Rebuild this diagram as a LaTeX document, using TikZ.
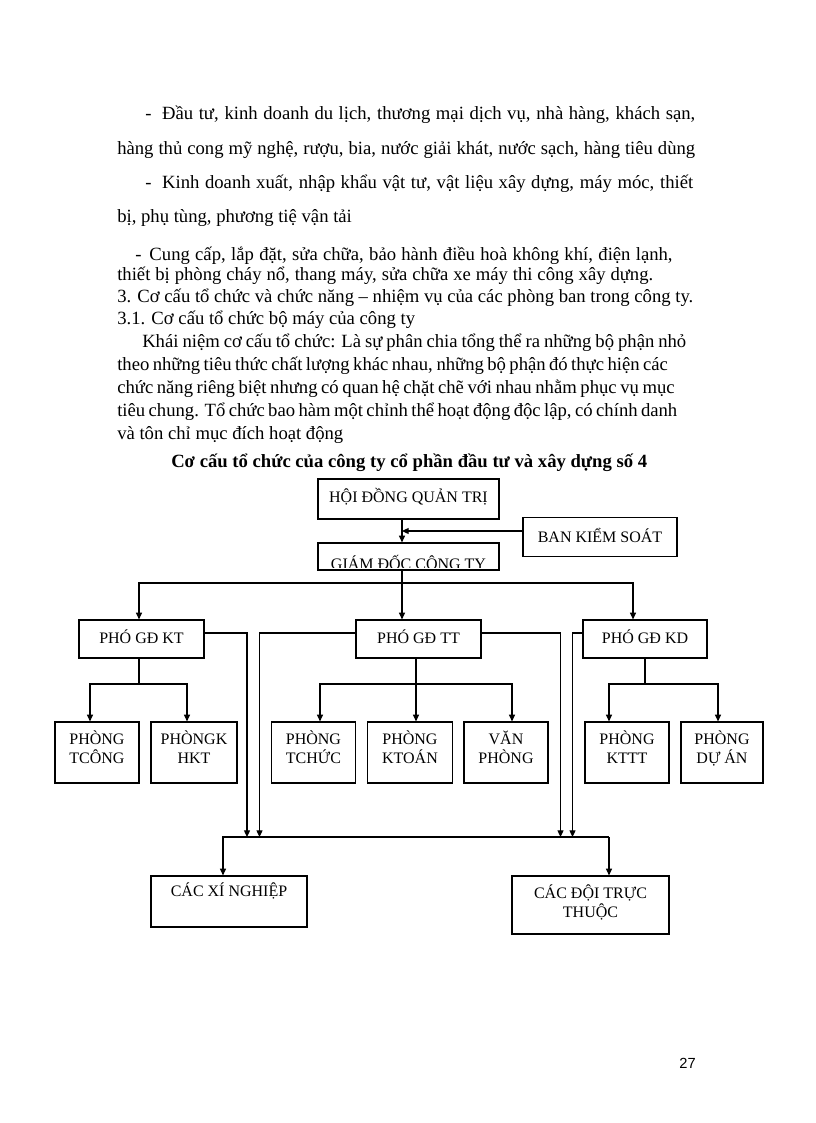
\documentclass[tikz,border=0pt]{standalone}
\usepackage{fontspec}
\setmainfont{Liberation Serif}
\newfontfamily\pagenumfont{Liberation Sans}
\usetikzlibrary{arrows.meta}
\tikzset{
  ln/.style={line width=0.9pt},
  arr/.style={ln, -{Triangle[length=5pt,width=4.5pt]}},
  bt/.style={font=\fontsize{12}{14.5}\selectfont, align=center, inner sep=0pt},
  bx/.style 2 args={draw, line width=0.9pt, inner sep=0pt, bt,
     minimum width=#1*0.75pt, minimum height=#2*0.75pt},
  body/.style={anchor=base west, inner sep=0pt, font=\fontsize{14}{16}\selectfont},
}
\begin{document}
\begin{tikzpicture}[x=0.75pt,y=-0.75pt]
\fill[white] (0,0) rectangle (816,1123);
\useasboundingbox (0,0) rectangle (816,1123);

% ---------- body text ----------
\node[body] (t1) at (145,120) {\makebox[412.5pt][s]{-\hskip 8pt Đầu tư, kinh doanh du lịch, thương mại dịch vụ, nhà hàng, khách sạn,}};
\node[body] (t2) at (117,155) {\makebox[433.5pt][s]{hàng thủ cong mỹ nghệ, rượu, bia, nước giải khát, nước sạch, hàng tiêu dùng}};
\node[body] (t3) at (145,189) {\makebox[411pt][s]{-\hskip 8pt Kinh doanh xuất, nhập khẩu vật tư, vật liệu xây dựng, máy móc, thiết}};
\node[body] (t4) at (117,223) {bị, phụ tùng, phương tiệ vận tải};
\node[body] (t5) at (135,260) {\makebox[403pt][s]{-\hskip 6pt Cung cấp, lắp đặt, sửa chữa, bảo hành điều hoà không khí, điện lạnh,}};
\node[body] (t6) at (117,280) {\makebox[402pt][s]{thiết bị phòng cháy nổ, thang máy, sửa chữa xe máy thi công xây dựng.}};
\node[body] (t7) at (117,302) {\makebox[432pt][s]{3. Cơ cấu tổ chức và chức năng – nhiệm vụ của các phòng ban trong công ty.}};
\node[body] (t8) at (117,324) {3.1. Cơ cấu tổ chức bộ máy của công ty};
\node[body] (t9) at (142,347) {\makebox[408pt][s]{Khái niệm cơ cấu tổ chức: Là sự phân chia tổng thể ra những bộ phận nhỏ}};
\node[body] (t10) at (117,370) {\makebox[413pt][s]{theo những tiêu thức chất lượng khác nhau, những bộ phận đó thực hiện các}};
\node[body] (t11) at (117,393) {\makebox[418pt][s]{chức năng riêng biệt nhưng có quan hệ chặt chẽ với nhau nhằm phục vụ mục}};
\node[body] (t12) at (117,416) {\makebox[420pt][s]{tiêu chung. Tổ chức bao hàm một chỉnh thể hoạt động độc lập, có chính danh}};
\node[body] (t13) at (117,439) {và tôn chỉ mục đích hoạt động};
\node[body, font=\fontsize{14}{16}\selectfont\bfseries] (title) at (171,467) {Cơ cấu tổ chức của công ty cổ phần đầu tư và xây dựng số 4};
\node[anchor=base east, inner sep=0pt, font=\pagenumfont\fontsize{11}{13}\selectfont] (pg) at (696,1068) {27};

% ---------- boxes ----------
\node[bx={181}{40}, label={[bt, yshift=1.5pt]center:HỘI ĐỒNG QUẢN TRỊ}] (hdqt) at (408.5,499) {};
\node[bx={154}{39}, label={[bt, yshift=1pt]center:BAN KIỂM SOÁT}] (bks) at (600,537) {};
\node[bx={181}{27}] (gd) at (408.5,556.5) {};
\begin{scope}
  \clip (gd.north west) rectangle ([yshift=2.5pt]gd.south east);
  \node[bt, anchor=base] (gdt) at (408.5,569) {GIÁM ĐỐC CÔNG TY};
\end{scope}

\node[bx={125}{38}, label={[bt, yshift=2pt]center:PHÓ GĐ KT}] (kt) at (141.5,639) {};
\node[bx={125}{38}, label={[bt, yshift=2pt]center:PHÓ GĐ TT}] (tt) at (418.5,639) {};
\node[bx={124}{38}, label={[bt, yshift=2pt]center:PHÓ GĐ KD}] (kd) at (645,639) {};

\node[bx={84}{61}, label={[bt, yshift=4pt]center:PHÒNG\\TCÔNG}] (p1) at (97,752.5) {};
\node[bx={86}{61}, label={[bt, yshift=4pt]center:PHÒNGK\\HKT}] (p2) at (194,752.5) {};
\node[bx={84}{61}, label={[bt, yshift=4pt]center:PHÒNG\\TCHỨC}] (p3) at (313.5,752.5) {};
\node[bx={85}{61}, label={[bt, yshift=4pt]center:PHÒNG\\KTOÁN}] (p4) at (410,752.5) {};
\node[bx={84}{61}, label={[bt, yshift=4pt]center:VĂN\\PHÒNG}] (p5) at (506,752.5) {};
\node[bx={84}{61}, label={[bt, yshift=4pt]center:PHÒNG\\KTTT}] (p6) at (627,752.5) {};
\node[bx={82}{61}, label={[bt, yshift=3pt]center:PHÒNG\\DỰ ÁN}] (p7) at (722,752.5) {};

\node[bx={156}{51}, label={[bt, anchor=center, yshift=-12pt]north:CÁC XÍ NGHIỆP}] (xn) at (229,901.5) {};
\node[bx={157}{58}, label={[bt, yshift=2pt]center:CÁC ĐỘI TRỰC\\THUỘC}] (doi) at (590.5,905) {};

% ---------- helper coordinates ----------
\coordinate (cx) at (402,0);
\coordinate (bky) at (0,531);
\coordinate (h1) at (0,583);
\coordinate (xa) at (139,0);
\coordinate (xb) at (633,0);
\coordinate (ry) at (0,633);
\coordinate (v1) at (247,0);
\coordinate (v2) at (259.5,0);
\coordinate (v3) at (560.5,0);
\coordinate (v4) at (572.5,0);
\coordinate (h3) at (0,837);
\coordinate (xn1) at (223,0);
\coordinate (xd1) at (609,0);
\coordinate (h2) at (0,684);
\coordinate (xt) at (416,0);
\coordinate (s1) at (90,0);
\coordinate (s2) at (187,0);
\coordinate (s3) at (320,0);
\coordinate (s5) at (512,0);
\coordinate (s6) at (609,0);
\coordinate (s7) at (718,0);

% ---------- connectors ----------
\draw[arr] (hdqt.south -| cx) -- (gd.north -| cx);
\draw[arr] (bks.west |- bky) -- (cx |- bky);
\draw[arr] (gd.south -| cx) -- (tt.north -| cx);
\draw[arr] (cx |- h1) -| (kt.north -| xa);
\draw[arr] (cx |- h1) -| (kd.north -| xb);

\draw[arr] (kt.south -| xa) -- (xa |- h2) -| (p1.north -| s1);
\draw[arr] (xa |- h2) -| (p2.north -| s2);
\draw[arr] (tt.south -| xt) -- (p4.north -| xt);
\draw[arr] (xt |- h2) -| (p3.north -| s3);
\draw[arr] (xt |- h2) -| (p5.north -| s5);
\draw[arr] (kd.south) -- (kd.south |- h2) -| (p6.north -| s6);
\draw[arr] (kd.south |- h2) -| (p7.north -| s7);

\draw[arr] (kt.east |- ry) -| (v1 |- h3);
\draw[arr] (tt.west |- ry) -| (v2 |- h3);
\draw[arr] (tt.east |- ry) -| (v3 |- h3);
\draw[arr] (kd.west |- ry) -| (v4 |- h3);

\draw[arr] (xd1 |- h3) -| (xn.north -| xn1);
\draw[arr] (xd1 |- h3) -- (doi.north -| xd1);
\end{tikzpicture}
\end{document}
